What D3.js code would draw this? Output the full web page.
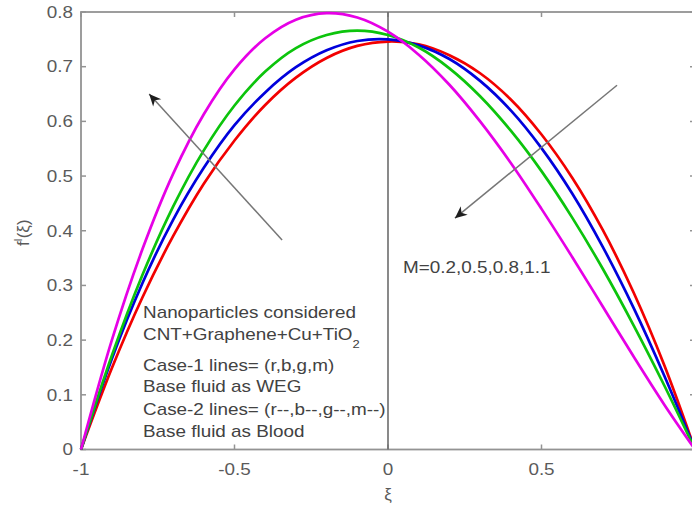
<!DOCTYPE html>
<html>
<head>
<meta charset="utf-8">
<script src="https://cdn.jsdelivr.net/npm/d3@7"></script>
<style>
  body { margin: 0; background: #fff; }
  svg { display: block; font-family: "Liberation Sans", Arial, sans-serif; }
</style>
</head>
<body>
<svg id="chart" width="692" height="508"></svg>
<script>
// Velocity profile f'(ξ) across the channel for four magnetic parameters M
const xi = [-1, -0.9, -0.8, -0.7, -0.6, -0.5, -0.4, -0.3, -0.2, -0.1, 0,
            0.1, 0.2, 0.3, 0.4, 0.5, 0.6, 0.7, 0.8, 0.9, 1];
const fM02 = [0, 0.148, 0.278, 0.390, 0.486, 0.565, 0.630, 0.680, 0.716, 0.738, 0.746,
              0.741, 0.721, 0.688, 0.640, 0.576, 0.497, 0.401, 0.287, 0.154, 0];
const fM05 = [0, 0.165, 0.304, 0.420, 0.515, 0.593, 0.653, 0.699, 0.730, 0.747, 0.750,
              0.739, 0.714, 0.674, 0.620, 0.551, 0.468, 0.370, 0.259, 0.135, 0];
const fM08 = [0, 0.171, 0.319, 0.444, 0.547, 0.629, 0.691, 0.734, 0.758, 0.766, 0.758,
              0.735, 0.697, 0.646, 0.583, 0.509, 0.424, 0.330, 0.227, 0.117, 0];
const fM11 = [0, 0.199, 0.366, 0.504, 0.613, 0.695, 0.752, 0.786, 0.798, 0.790, 0.764,
              0.722, 0.667, 0.600, 0.524, 0.440, 0.352, 0.261, 0.170, 0.082, 0];
const seriesColors = ["#f20000", "#0000dc", "#0cc40c", "#e600e6"];

// the tick at ξ = 1 sits on the clipped right edge, so it carries no label
const xTicks = [-1, -0.5, 0, 0.5, 1];
const xTickLabels = ["-1", "-0.5", "0", "0.5", ""];
const yTicks = [0, 0.1, 0.2, 0.3, 0.4, 0.5, 0.6, 0.7, 0.8];
const yTickLabels = ["0", "0.1", "0.2", "0.3", "0.4", "0.5", "0.6", "0.7", "0.8"];

const noteLines = ["Nanoparticles considered", "CNT+Graphene+Cu+TiO",
                   "Case-1 lines= (r,b,g,m)", "Base fluid as WEG",
                   "Case-2 lines= (r--,b--,g--,m--)", "Base fluid as Blood"];
const mText = "M=0.2,0.5,0.8,1.1";

// annotation anchors in data units
const noteAnchor = [-0.798, 0.240];
const mAnchor = [0.049, 0.323];
const arrowUp = [[-0.345, 0.383], [-0.778, 0.650]];
const arrowDown = [[0.746, 0.666], [0.218, 0.423]];

const svg = d3.select("#chart");
const x = d3.scaleLinear().domain([-1, 1]).range([81, 695]);
const y = d3.scaleLinear().domain([0, 0.8]).range([449.5, 12]);
const stretch = 1.18;
const axisColor = "#939393";
const tickText = "#5a5a5a";

function stretchedText(g, px, py, str, size, anchor, fill) {
  return g.append("text")
    .attr("transform", `translate(${px},${py}) scale(${stretch},1)`)
    .attr("text-anchor", anchor)
    .attr("font-size", size)
    .attr("fill", fill)
    .text(str);
}

// frame
const frame = svg.append("g");
frame.append("rect")
  .attr("x", x(-1)).attr("y", y(0.8))
  .attr("width", x(1) - x(-1)).attr("height", y(0) - y(0.8))
  .attr("fill", "none").attr("stroke", axisColor).attr("stroke-width", 1.8);

// ticks pointing inward on all four sides
xTicks.forEach((t, i) => {
  frame.append("line").attr("x1", x(t)).attr("x2", x(t))
    .attr("y1", y(0)).attr("y2", y(0) - 5).attr("stroke", axisColor).attr("stroke-width", 1.5);
  frame.append("line").attr("x1", x(t)).attr("x2", x(t))
    .attr("y1", y(0.8)).attr("y2", y(0.8) + 5).attr("stroke", axisColor).attr("stroke-width", 1.5);
  if (xTickLabels[i]) {
    stretchedText(frame, x(t), y(0) + 25, xTickLabels[i], 16, "middle", tickText);
  }
});
yTicks.forEach((t, i) => {
  frame.append("line").attr("x1", x(-1)).attr("x2", x(-1) + 5)
    .attr("y1", y(t)).attr("y2", y(t)).attr("stroke", axisColor).attr("stroke-width", 1.5);
  frame.append("line").attr("x1", x(1)).attr("x2", x(1) - 5)
    .attr("y1", y(t)).attr("y2", y(t)).attr("stroke", axisColor).attr("stroke-width", 1.5);
  stretchedText(frame, x(-1) - 8, y(t) + 5.8, yTickLabels[i], 16, "end", tickText);
});

// axis titles
svg.append("text")
  .attr("x", x(0)).attr("y", 500)
  .attr("text-anchor", "middle").attr("font-size", 17).attr("fill", tickText)
  .text("ξ");
const yTitle = svg.append("text")
  .attr("transform", `translate(29,${(y(0) + y(0.8)) / 2 + 2}) rotate(-90)`)
  .attr("text-anchor", "middle").attr("font-size", 17).attr("fill", tickText);
yTitle.append("tspan").text("f");
yTitle.append("tspan").attr("font-size", 11).attr("dy", -7).text("I");
yTitle.append("tspan").attr("dy", 7).text("(ξ)");

// vertical line at ξ = 0
svg.append("line")
  .attr("x1", x(0)).attr("x2", x(0)).attr("y1", y(0.8)).attr("y2", y(0))
  .attr("stroke", "#6c6c6c").attr("stroke-width", 1.6);

// profiles
const line = d3.line()
  .x((d, i) => x(xi[i]))
  .y(d => y(d))
  .curve(d3.curveCatmullRom.alpha(0.5));
[fM02, fM05, fM08, fM11].forEach((s, k) => {
  svg.append("path")
    .attr("d", line(s))
    .attr("fill", "none")
    .attr("stroke", seriesColors[k])
    .attr("stroke-width", 2.7)
    .attr("stroke-linejoin", "round");
});

// arrows
const defs = svg.append("defs");
defs.append("marker")
  .attr("id", "head")
  .attr("markerUnits", "userSpaceOnUse")
  .attr("markerWidth", 16).attr("markerHeight", 16)
  .attr("viewBox", "-13 -8 16 16")
  .attr("refX", 0).attr("refY", 0)
  .attr("orient", "auto")
  .append("path")
  .attr("d", "M0,0 L-12,-5.5 L-8.5,0 L-12,5.5 Z")
  .attr("fill", "#1e1e1e");
[arrowUp, arrowDown].forEach(a => {
  svg.append("line")
    .attr("x1", x(a[0][0])).attr("y1", y(a[0][1]))
    .attr("x2", x(a[1][0])).attr("y2", y(a[1][1]))
    .attr("stroke", "#767676").attr("stroke-width", 1.5)
    .attr("marker-end", "url(#head)");
});

// notes
const noteColor = "#424242";
const noteOffsets = [0, 21.7, 52.7, 73.4, 96.7, 118.4];
const nx = x(noteAnchor[0]), ny = y(noteAnchor[1]);
noteLines.forEach((s, i) => {
  const t = stretchedText(svg, nx, ny + noteOffsets[i], s, 16, "start", noteColor);
  if (i === 1) {
    t.append("tspan").attr("font-size", 11).attr("dy", 8).text("2");
  }
});
stretchedText(svg, x(mAnchor[0]), y(mAnchor[1]), mText, 16, "start", noteColor);
</script>
</body>
</html>
